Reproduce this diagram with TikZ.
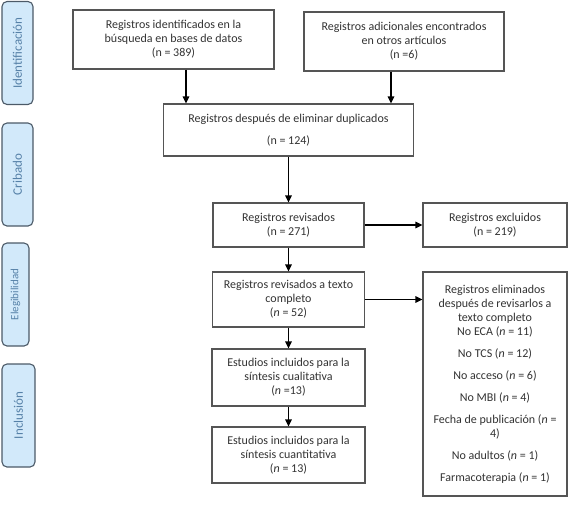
\documentclass[tikz,border=0pt]{standalone}
\usepackage{fontspec}
\setmainfont{Carlito}
\usepackage{xcolor}
\usepackage{tikz}
\usetikzlibrary{arrows.meta, positioning}

\definecolor{phasefill}{HTML}{D2E9FA}
\definecolor{phaseline}{HTML}{4C5A68}
\definecolor{phasetext}{HTML}{5681A8}
\definecolor{boxline}{HTML}{555555}
\definecolor{boxtext}{HTML}{333333}

\begin{document}
\begin{tikzpicture}[x=1pt, y=-1pt,
    box/.style={rectangle, draw=boxline, line width=1.1pt, fill=white,
      align=center, text=boxtext, font=\fontsize{12}{14}\selectfont,
      inner sep=2pt},
    phase/.style={rectangle, rounded corners=5pt, draw=phaseline,
      line width=1.1pt, fill=phasefill, rotate=90, text=phasetext,
      font=\fontsize{13}{15}\selectfont, minimum width=103pt,
      minimum height=31pt, inner sep=0pt},
    arr/.style={-{Triangle[length=7pt,width=6.5pt]}, line width=1.4pt}]
  \useasboundingbox (0,0) rectangle (577,507);
  % phases on the left
  \node[phase] (ident) at (17.5,53)    {Identificación};
  \node[phase] (crib)  at (17.5,174.5) {Cribado};
  \node[phase, minimum height=27pt] (eleg) at (15.5,294.5)
    {\fontsize{11}{12}\selectfont Elegibilidad};
  \node[phase, minimum height=33pt] (incl) at (18.5,415.5) {Inclusión};
  % flow boxes
  \node[box, minimum width=201pt, minimum height=59pt] (bases) at (173.5,39.5)
    {Registros identificados en la\\búsqueda en bases de datos\\(n = 389)};
  \node[box, minimum width=200pt, minimum height=59pt] (otros) at (404,41.5)
    {Registros adicionales encontrados\\en otros artículos\\(n =6)};
  \node[box, minimum width=250pt, minimum height=52pt] (dupl) at (288.5,130)
    {Registros después de eliminar duplicados\\[8pt](n = 124)};
  \node[box, minimum width=151pt, minimum height=44pt] (rev) at (288.5,225)
    {Registros revisados\\(n = 271)};
  \node[box, minimum width=144pt, minimum height=44pt] (excl) at (495,225)
    {Registros excluidos\\(n = 219)};
  \node[box, minimum width=152pt, minimum height=55pt] (texto) at (288.5,299.5)
    {Registros revisados a texto\\completo\\(\textit{n} = 52)};
  \node[box, minimum width=144pt, minimum height=224pt] (elim) at (495,384)
    {Registros eliminados\\después de revisarlos a\\texto completo\\
     No ECA (\textit{n} = 11)\\[8pt]
     No TCS (\textit{n} = 12)\\[8pt]
     No acceso (\textit{n} = 6)\\[8pt]
     No MBI (\textit{n} = 4)\\[8pt]
     Fecha de publicación (\textit{n} =\\4)\\[8pt]
     No adultos (\textit{n} = 1)\\[8pt]
     Farmacoterapia (\textit{n} = 1)};
  \node[box, minimum width=153pt, minimum height=57pt] (cual) at (288.5,377.5)
    {Estudios incluidos para la\\síntesis cualitativa\\(\textit{n} =13)};
  \node[box, minimum width=153pt, minimum height=56pt] (cuan) at (288.5,455)
    {Estudios incluidos para la\\síntesis cuantitativa\\(\textit{n} = 13)};
  % connectors
  \coordinate (b1) at ([xshift=12.5pt]bases.south);
  \coordinate (b2) at ([xshift=-13pt]otros.south);
  \draw[arr] (b1) -- (b1 |- dupl.north);
  \draw[arr] (b2) -- (b2 |- dupl.north);
  \foreach \a/\b in {dupl/rev,rev/texto,texto/cual,cual/cuan}
    \draw[arr] (\a) -- (\b);
  \draw[arr] (rev) -- (excl);
  \draw[arr] (texto.east) -- (texto.east -| elim.west);
\end{tikzpicture}
\end{document}
